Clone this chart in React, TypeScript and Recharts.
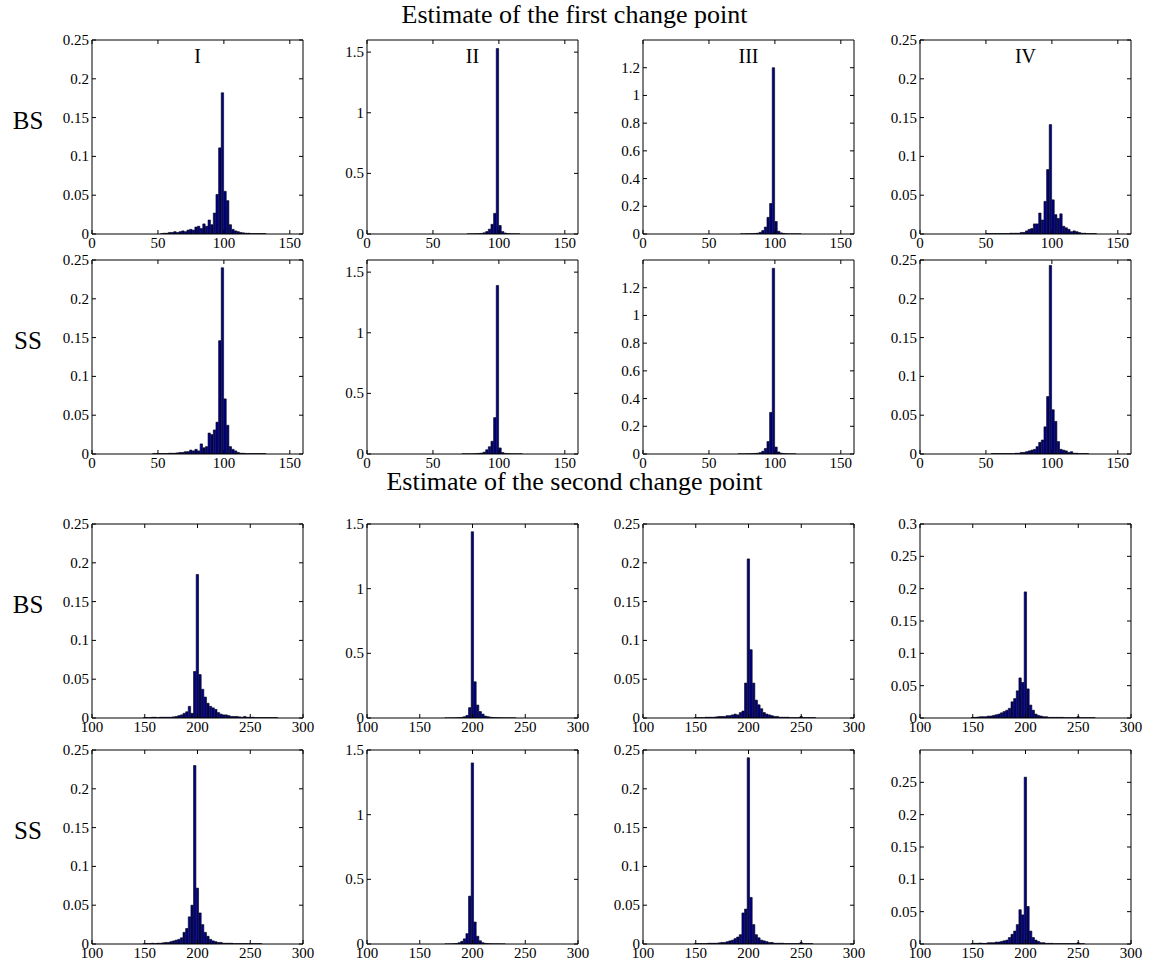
import React from 'react';
import { BarChart, Bar, XAxis, YAxis } from 'recharts';

// bin centres
const binsFirst = [45, 47, 49, 51, 53, 55, 57, 59, 61, 63, 65, 67, 69, 71, 73, 75, 77, 79, 81, 83, 85, 87, 89, 91, 93,
  95, 97, 99, 101, 103, 105, 107, 109, 111, 113, 115, 117, 119, 121, 123, 125, 127, 129, 131, 133, 135];
const binsSecond = [150, 152.5, 155, 157.5, 160, 162.5, 165, 167.5, 170, 172.5, 175, 177.5, 180, 182.5, 185, 187.5,
  190, 192.5, 195, 197.5, 200, 202.5, 205, 207.5, 210, 212.5, 215, 217.5, 220, 222.5, 225, 227.5, 230, 232.5, 235,
  237.5, 240, 242.5, 245, 247.5, 250, 252.5, 255, 257.5, 260, 262.5, 265, 267.5, 270, 272.5, 275];

// first change point, BS
const bsFirstI = [0, 0, 0, 0, 0.0005, 0.001, 0.001, 0.002, 0.002, 0.003,
  0.002, 0.003, 0.004, 0.003, 0.005, 0.006, 0.005, 0.009, 0.01, 0.007,
  0.013, 0.01, 0.018, 0.012, 0.027, 0.051, 0.111, 0.182, 0.055, 0.043,
  0.012, 0.006, 0.004, 0.003, 0.002, 0.0015, 0.001, 0.001, 0.0005, 0.0005,
  0.0005, 0.0005, 0.0005, 0.0005, 0, 0];
const bsFirstII = [0, 0, 0, 0, 0, 0, 0, 0, 0, 0,
  0, 0, 0, 0, 0, 0, 0.001, 0.001, 0.002, 0.002,
  0.003, 0.005, 0.01, 0.02, 0.04, 0.08, 0.17, 1.53, 0.07, 0.02,
  0.008, 0.004, 0.002, 0.001, 0.001, 0.001, 0, 0, 0, 0,
  0, 0, 0, 0, 0, 0];
const bsFirstIII = [0, 0, 0, 0, 0, 0, 0, 0, 0, 0,
  0, 0, 0, 0, 0, 0.001, 0.001, 0.002, 0.002, 0.003,
  0.004, 0.006, 0.012, 0.025, 0.05, 0.12, 0.22, 1.2, 0.09, 0.02,
  0.008, 0.004, 0.002, 0.001, 0.001, 0.001, 0.001, 0.001, 0, 0,
  0, 0, 0, 0, 0, 0];
const bsFirstIV = [0, 0, 0, 0.0005, 0.0005, 0.0005, 0.0005, 0.0005, 0.0005, 0.0005,
  0.0005, 0.0005, 0.001, 0.001, 0.001, 0.001, 0.002, 0.002, 0.004, 0.006,
  0.007, 0.013, 0.013, 0.027, 0.018, 0.042, 0.083, 0.141, 0.044, 0.025,
  0.02, 0.026, 0.01, 0.008, 0.006, 0.003, 0.004, 0.003, 0.002, 0.001,
  0.001, 0.0005, 0.0005, 0.0005, 0.0005, 0];

// first change point, SS
const ssFirstI = [0, 0.0005, 0.0005, 0.0005, 0.0005, 0.0005, 0.0005, 0.001, 0.001, 0.001,
  0.0015, 0.002, 0.002, 0.003, 0.003, 0.005, 0.004, 0.006, 0.004, 0.013,
  0.008, 0.0095, 0.027, 0.025, 0.031, 0.041, 0.146, 0.24, 0.071, 0.037,
  0.0095, 0.006, 0.004, 0.002, 0.001, 0.001, 0.0005, 0.0005, 0.0005, 0.0005,
  0.0005, 0.0005, 0.0005, 0.0005, 0, 0];
const ssFirstII = [0, 0, 0, 0, 0, 0, 0, 0, 0, 0,
  0, 0, 0, 0, 0.001, 0.001, 0.001, 0.001, 0.002, 0.003,
  0.005, 0.008, 0.015, 0.035, 0.06, 0.105, 0.3, 1.39, 0.05, 0.012,
  0.005, 0.003, 0.002, 0.001, 0.001, 0.001, 0.001, 0, 0, 0,
  0, 0, 0, 0, 0, 0];
const ssFirstIII = [0, 0, 0, 0, 0, 0, 0, 0, 0, 0,
  0, 0, 0, 0, 0.001, 0.001, 0.001, 0.002, 0.002, 0.003,
  0.004, 0.006, 0.01, 0.02, 0.04, 0.09, 0.3, 1.34, 0.05, 0.015,
  0.006, 0.003, 0.002, 0.001, 0.001, 0.001, 0, 0, 0, 0,
  0, 0, 0, 0, 0, 0];
const ssFirstIV = [0, 0, 0, 0, 0, 0.0005, 0.0005, 0.0005, 0.0005, 0.0005,
  0.0005, 0.0005, 0.0005, 0.0005, 0.001, 0.001, 0.002, 0.002, 0.003, 0.004,
  0.005, 0.006, 0.0095, 0.015, 0.018, 0.035, 0.074, 0.243, 0.057, 0.042,
  0.016, 0.006, 0.005, 0.004, 0.002, 0.003, 0.001, 0.001, 0.0005, 0.0005,
  0.0005, 0.0005, 0, 0, 0, 0];

// second change point, BS
const bsSecondI = [0.0005, 0.0005, 0.0005, 0.001, 0.001, 0.0005, 0.001, 0.001, 0.001, 0.001,
  0.001, 0.0015, 0.002, 0.003, 0.004, 0.006, 0.008, 0.015, 0.006, 0.06,
  0.185, 0.056, 0.037, 0.027, 0.019, 0.015, 0.013, 0.011, 0.007, 0.005,
  0.004, 0.004, 0.003, 0.002, 0.002, 0.002, 0.0015, 0.001, 0.002, 0.001,
  0.001, 0.001, 0.0005, 0.0005, 0.0005, 0.0005, 0.0005, 0.0005, 0.0005, 0.0005, 0.0005];
const bsSecondII = [0, 0, 0, 0, 0, 0, 0, 0, 0, 0,
  0.0005, 0.0005, 0.001, 0.001, 0.002, 0.003, 0.005, 0.01, 0.02, 0.08,
  1.44, 0.28, 0.1, 0.05, 0.03, 0.015, 0.01, 0.006, 0.004, 0.003,
  0.002, 0.002, 0.001, 0.001, 0.001, 0.001, 0.001, 0, 0, 0,
  0, 0, 0, 0, 0, 0, 0, 0, 0, 0, 0];
const bsSecondIII = [0.0005, 0.0005, 0.0005, 0.0005, 0.001, 0.001, 0.001, 0.001, 0.0015, 0.002,
  0.002, 0.002, 0.003, 0.003, 0.004, 0.005, 0.004, 0.007, 0.009, 0.045,
  0.205, 0.088, 0.045, 0.023, 0.017, 0.012, 0.007, 0.005, 0.004, 0.003,
  0.002, 0.002, 0.001, 0.001, 0.001, 0.001, 0.0005, 0.0005, 0.0005, 0.0005,
  0.002, 0.0005, 0.0005, 0.0005, 0.0005, 0.0005, 0, 0, 0, 0, 0];
const bsSecondIV = [0.001, 0.001, 0.0015, 0.002, 0.002, 0.002, 0.003, 0.003, 0.004, 0.005,
  0.006, 0.008, 0.01, 0.012, 0.015, 0.025, 0.03, 0.042, 0.062, 0.055,
  0.195, 0.045, 0.02, 0.012, 0.006, 0.004, 0.003, 0.002, 0.002, 0.001,
  0.001, 0.001, 0.001, 0.001, 0.001, 0.0005, 0.0005, 0.0005, 0.0005, 0.0005,
  0.002, 0.0005, 0.0005, 0.0005, 0.0005, 0.0005, 0.0005, 0, 0, 0, 0];

// second change point, SS
const ssSecondI = [0.0005, 0.0005, 0.0005, 0.001, 0.0005, 0.001, 0.001, 0.0015, 0.002, 0.002,
  0.003, 0.004, 0.005, 0.006, 0.008, 0.015, 0.02, 0.035, 0.05, 0.23,
  0.072, 0.04, 0.025, 0.015, 0.01, 0.006, 0.004, 0.003, 0.002, 0.002,
  0.001, 0.001, 0.001, 0.001, 0.0005, 0.0005, 0.0005, 0.0005, 0.0005, 0.0005,
  0.0005, 0.0005, 0.0005, 0.0005, 0.0005, 0, 0, 0, 0, 0, 0];
const ssSecondII = [0, 0, 0, 0, 0, 0, 0, 0, 0, 0,
  0.0005, 0.0005, 0.001, 0.002, 0.004, 0.01, 0.02, 0.04, 0.08, 0.37,
  1.4, 0.17, 0.06, 0.025, 0.01, 0.005, 0.003, 0.002, 0.001, 0.001,
  0.001, 0.0005, 0.0005, 0, 0, 0, 0, 0, 0, 0,
  0, 0, 0, 0, 0, 0, 0, 0, 0, 0, 0];
const ssSecondIII = [0.0005, 0.0005, 0.0005, 0.0005, 0.0005, 0.001, 0.001, 0.001, 0.001, 0.0015,
  0.002, 0.002, 0.003, 0.004, 0.005, 0.007, 0.009, 0.012, 0.04, 0.045,
  0.24, 0.06, 0.025, 0.012, 0.008, 0.005, 0.004, 0.003, 0.002, 0.002,
  0.001, 0.001, 0.001, 0.001, 0.0005, 0.0005, 0.0005, 0.0005, 0.0005, 0.0005,
  0.002, 0.0005, 0.0005, 0.0005, 0.0005, 0, 0, 0, 0, 0, 0];
const ssSecondIV = [0.001, 0.001, 0.001, 0.0015, 0.001, 0.001, 0.002, 0.002, 0.002, 0.003,
  0.003, 0.004, 0.005, 0.006, 0.01, 0.015, 0.02, 0.03, 0.053, 0.045,
  0.258, 0.058, 0.02, 0.01, 0.006, 0.004, 0.002, 0.002, 0.001, 0.001,
  0.001, 0.0005, 0.0005, 0.0005, 0.0005, 0.0005, 0.0005, 0.0005, 0.0005, 0.0005,
  0.002, 0.0005, 0.0005, 0, 0, 0, 0, 0, 0, 0, 0];

// ticks
const xTicksFirst = [0, 50, 100, 150];
const xTicksSecond = [100, 150, 200, 250, 300];
const yTicks025 = [0, 0.05, 0.1, 0.15, 0.2, 0.25];
const yTicks03 = [0, 0.05, 0.1, 0.15, 0.2, 0.25, 0.3];
const yTicks15 = [0, 0.5, 1, 1.5];
const yTicks12 = [0, 0.2, 0.4, 0.6, 0.8, 1, 1.2];

const colLabels = ['I', 'II', 'III', 'IV'];
const rowLabels = ['BS', 'SS', 'BS', 'SS'];

const FONT = '"Liberation Serif", "Times New Roman", serif';
const PLOT_W = 211;
const PLOT_H = 194;
const PAD_L = 60;
const PAD_T = 14;
const PAD_R = 22;
const PAD_B = 24;
const COL_LEFT = [92, 367, 643, 920];
const ROW_TOP = [40, 260, 524, 750];

const BottomTick = ({ x, y, payload }: any) => (
  <g>
    <line x1={x} x2={x} y1={y} y2={y - 4} stroke="#000" />
    <text x={x} y={y + 14} textAnchor="middle" fontSize={15} fontFamily={FONT} fill="#000">
      {payload.value}
    </text>
  </g>
);

const LeftTick = ({ x, y, payload }: any) => (
  <g>
    <line x1={x} x2={x + 4} y1={y} y2={y} stroke="#000" />
    <text x={x - 3} y={y + 5} textAnchor="end" fontSize={15} fontFamily={FONT} fill="#000">
      {payload.value}
    </text>
  </g>
);

const TopTick = ({ x, y }: any) => <line x1={x} x2={x} y1={y} y2={y + 4} stroke="#000" />;
const RightTick = ({ x, y }: any) => <line x1={x} x2={x - 4} y1={y} y2={y} stroke="#000" />;

interface PanelProps {
  bins: number[];
  values: number[];
  xDomain: [number, number];
  xTicks: number[];
  yMax: number;
  yTicks: number[];
  binWidth: number;
  left: number;
  top: number;
  label?: string;
}

function Panel({ bins, values, xDomain, xTicks, yMax, yTicks, binWidth, left, top, label }: PanelProps) {
  const data = bins.map((b, i) => ({ x: b, v: values[i] }));
  const barSize = (binWidth * PLOT_W) / (xDomain[1] - xDomain[0]);
  return (
    <div style={{ position: 'absolute', left: left - PAD_L, top: top - PAD_T }}>
      <BarChart
        width={PAD_L + PLOT_W + PAD_R}
        height={PAD_T + PLOT_H + PAD_B}
        data={data}
        margin={{ top: PAD_T - 1, right: PAD_R - 1, left: 0, bottom: 0 }}
        barGap={0}
        barCategoryGap={0}
      >
        <XAxis
          dataKey="x"
          type="number"
          domain={xDomain}
          ticks={xTicks}
          allowDataOverflow
          interval={0}
          height={PAD_B}
          tickSize={0}
          tickMargin={0}
          tick={BottomTick}
          axisLine={{ stroke: '#000' }}
        />
        <XAxis
          xAxisId="t"
          orientation="top"
          dataKey="x"
          type="number"
          domain={xDomain}
          ticks={xTicks}
          allowDataOverflow
          interval={0}
          height={1}
          tickSize={0}
          tickMargin={0}
          tick={TopTick}
          axisLine={{ stroke: '#000' }}
        />
        <YAxis
          type="number"
          domain={[0, yMax]}
          ticks={yTicks}
          allowDataOverflow
          interval={0}
          width={PAD_L}
          tickSize={0}
          tickMargin={0}
          tick={LeftTick}
          axisLine={{ stroke: '#000' }}
        />
        <YAxis
          yAxisId="r"
          orientation="right"
          type="number"
          domain={[0, yMax]}
          ticks={yTicks}
          allowDataOverflow
          interval={0}
          width={1}
          tickSize={0}
          tickMargin={0}
          tick={RightTick}
          axisLine={{ stroke: '#000' }}
        />
        <Bar
          dataKey="v"
          fill="#00008c"
          stroke="#000"
          strokeWidth={0.6}
          barSize={barSize}
          isAnimationActive={false}
        />
      </BarChart>
      {label && (
        <div
          style={{
            position: 'absolute',
            left: PAD_L,
            width: PLOT_W,
            top: PAD_T + 6,
            textAlign: 'center',
            fontSize: 20,
            lineHeight: '20px',
            fontFamily: FONT,
          }}
        >
          {label}
        </div>
      )}
    </div>
  );
}

const firstRows = [
  [bsFirstI, bsFirstII, bsFirstIII, bsFirstIV],
  [ssFirstI, ssFirstII, ssFirstIII, ssFirstIV],
];
const firstYMax = [0.25, 1.6, 1.4, 0.25];
const firstYTicks = [yTicks025, yTicks15, yTicks12, yTicks025];

const secondRows = [
  [bsSecondI, bsSecondII, bsSecondIII, bsSecondIV],
  [ssSecondI, ssSecondII, ssSecondIII, ssSecondIV],
];
const secondYMax = [
  [0.25, 1.5, 0.25, 0.3],
  [0.25, 1.5, 0.25, 0.3],
];
const secondYTicks = [
  [yTicks025, yTicks15, yTicks025, yTicks03],
  [yTicks025, yTicks15, yTicks025, yTicks025],
];

export default function App() {
  const titleStyle: React.CSSProperties = {
    position: 'absolute',
    left: 0,
    width: 1149,
    textAlign: 'center',
    fontSize: 26,
    lineHeight: '28px',
    fontFamily: FONT,
  };
  return (
    <div
      style={{
        position: 'absolute',
        left: 0,
        top: 0,
        width: 1149,
        height: 965,
        background: '#fff',
        fontFamily: FONT,
        color: '#000',
      }}
    >
      <div style={{ ...titleStyle, top: 1 }}>Estimate of the first change point</div>
      <div style={{ ...titleStyle, top: 468 }}>Estimate of the second change point</div>
      {rowLabels.map((lab, r) => (
        <div
          key={`row-${r}`}
          style={{
            position: 'absolute',
            left: 4,
            width: 48,
            textAlign: 'center',
            top: ROW_TOP[r] + PLOT_H / 2 - 30,
            fontSize: 25,
            lineHeight: '28px',
          }}
        >
          {lab}
        </div>
      ))}
      {firstRows.map((row, r) =>
        row.map((vals, c) => (
          <Panel
            key={`f-${r}-${c}`}
            bins={binsFirst}
            values={vals}
            xDomain={[0, 160]}
            xTicks={xTicksFirst}
            yMax={firstYMax[c]}
            yTicks={firstYTicks[c]}
            binWidth={2}
            left={COL_LEFT[c]}
            top={ROW_TOP[r]}
            label={r === 0 ? colLabels[c] : undefined}
          />
        ))
      )}
      {secondRows.map((row, r) =>
        row.map((vals, c) => (
          <Panel
            key={`s-${r}-${c}`}
            bins={binsSecond}
            values={vals}
            xDomain={[100, 300]}
            xTicks={xTicksSecond}
            yMax={secondYMax[r][c]}
            yTicks={secondYTicks[r][c]}
            binWidth={2.5}
            left={COL_LEFT[c]}
            top={ROW_TOP[r + 2]}
          />
        ))
      )}
    </div>
  );
}
